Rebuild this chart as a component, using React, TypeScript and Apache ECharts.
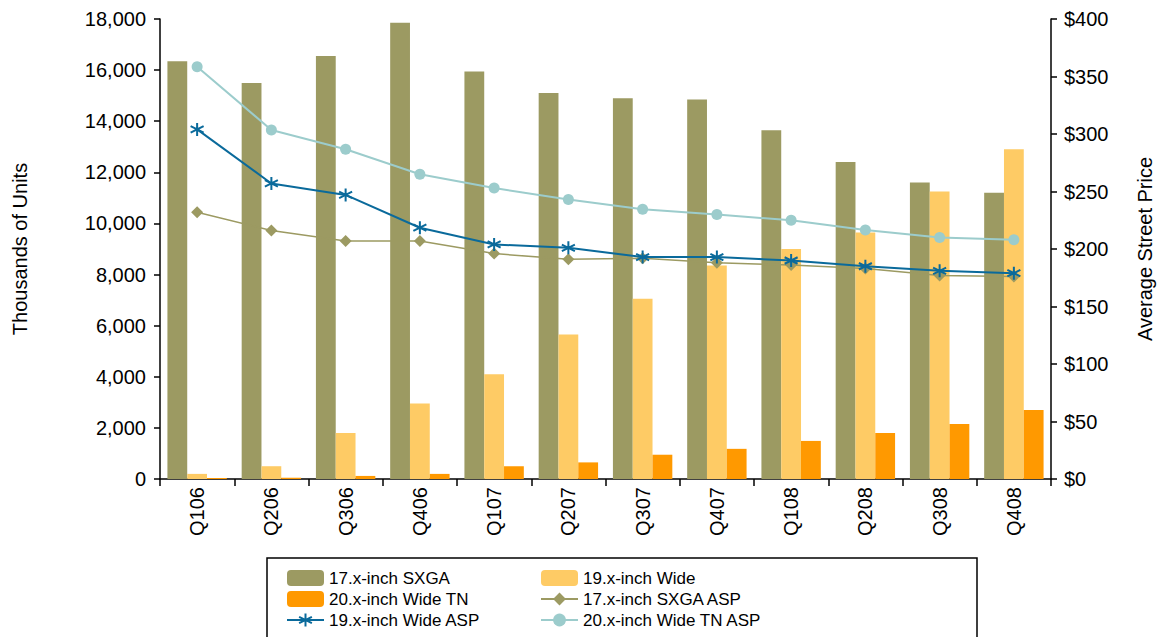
import React, { useEffect, useRef } from "react";
import * as echarts from "echarts";

const categories = ["Q106", "Q206", "Q306", "Q406", "Q107", "Q207", "Q307", "Q407", "Q108", "Q208", "Q308", "Q408"];
const sxgaUnits = [16350, 15500, 16550, 17850, 15950, 15100, 14900, 14850, 13650, 12400, 11600, 11200];
const wideUnits = [200, 500, 1800, 2950, 4100, 5650, 7050, 8350, 9000, 9650, 11250, 12900];
const wideTnUnits = [40, 50, 120, 200, 500, 650, 950, 1180, 1490, 1800, 2150, 2700];
const sxgaAsp = [232, 216, 207, 207, 196, 191, 192, 188, 186, 183, 177, 176];
const wideAsp = [304, 257, 247, 218.5, 204, 201, 193, 193, 190, 185, 181, 179];
const wideTnAsp = [358.5, 303.5, 286.7, 265, 253, 243, 234.5, 230, 225, 216.5, 210, 208];
const leftTicks = { min: 0, max: 18000, interval: 2000 };
const rightTicks = { min: 0, max: 400, interval: 50 };

const OLIVE = "#9C9A62";
const LIGHT_ORANGE = "#FECB65";
const ORANGE = "#FF9900";
const BLUE = "#0A6A9B";
const TEAL = "#9CCCCC";
const FONT = "'Liberation Sans', Arial, sans-serif";

const ASTERISK = "path://M0,-10 L0,10 M-8.66,-5 L8.66,5 M-8.66,5 L8.66,-5";

export default function App() {
  const ref = useRef<HTMLDivElement>(null);
  useEffect(() => {
    if (!ref.current) return;
    const chart = echarts.init(ref.current, null, { renderer: "svg" });
    const axisLine = { show: true, lineStyle: { color: "#000", width: 1.5 } };
    const legendText = { fontFamily: FONT, fontSize: 17, color: "#000", lineHeight: 20 };
    const legendBase = {
      orient: "vertical",
      top: 568,
      height: 66,
      padding: 0,
      itemWidth: 37,
      itemHeight: 16,
      itemGap: 1,
      textStyle: legendText,
    };
    chart.setOption({
      animation: false,
      textStyle: { fontFamily: FONT },
      grid: { left: 160, right: 102, top: 19, bottom: 158 },
      legend: [
        { ...legendBase, left: 286, data: ["17.x-inch SXGA", "20.x-inch Wide TN", "19.x-inch Wide ASP"] },
        { ...legendBase, left: 540, data: ["19.x-inch Wide", "17.x-inch SXGA ASP", "20.x-inch Wide TN ASP"] },
      ],
      graphic: [
        {
          type: "rect",
          shape: { x: 267, y: 558, width: 710, height: 100 },
          style: { fill: "none", stroke: "#000", lineWidth: 1.5 },
          silent: true,
        },
      ],
      xAxis: {
        type: "category",
        data: categories,
        boundaryGap: true,
        axisLine,
        axisTick: { show: true, length: 7, lineStyle: { color: "#000", width: 1.5 } },
        axisLabel: { rotate: 90, fontSize: 20, color: "#000", margin: 8, fontFamily: FONT },
        splitLine: { show: false },
      },
      yAxis: [
        {
          type: "value",
          ...leftTicks,
          position: "left",
          name: "Thousands of Units",
          nameLocation: "middle",
          nameRotate: 90,
          nameGap: 130,
          nameTextStyle: { fontSize: 20, color: "#000", fontFamily: FONT },
          axisLine,
          axisTick: { show: true, length: 6, lineStyle: { color: "#000", width: 1.5 } },
          axisLabel: {
            fontSize: 20,
            color: "#000",
            margin: 14,
            fontFamily: FONT,
            formatter: (v: number) => v.toLocaleString("en-US"),
          },
          splitLine: { show: false },
        },
        {
          type: "value",
          ...rightTicks,
          position: "right",
          name: "Average Street Price",
          nameLocation: "middle",
          nameRotate: 90,
          nameGap: 84,
          nameTextStyle: { fontSize: 20, color: "#000", fontFamily: FONT },
          axisLine,
          axisTick: { show: true, length: 6, lineStyle: { color: "#000", width: 1.5 } },
          axisLabel: {
            fontSize: 20,
            color: "#000",
            margin: 13,
            fontFamily: FONT,
            formatter: (v: number) => "$" + v,
          },
          splitLine: { show: false },
        },
      ],
      series: [
        { name: "17.x-inch SXGA", type: "bar", data: sxgaUnits, itemStyle: { color: OLIVE }, barGap: "0%", barCategoryGap: "20%" },
        { name: "19.x-inch Wide", type: "bar", data: wideUnits, itemStyle: { color: LIGHT_ORANGE }, barGap: "0%", barCategoryGap: "20%" },
        { name: "20.x-inch Wide TN", type: "bar", data: wideTnUnits, itemStyle: { color: ORANGE }, barGap: "0%", barCategoryGap: "20%" },
        {
          name: "17.x-inch SXGA ASP",
          type: "line",
          yAxisIndex: 1,
          data: sxgaAsp,
          symbol: "diamond",
          symbolSize: 12,
          z: 5,
          lineStyle: { color: OLIVE, width: 1.5 },
          itemStyle: { color: OLIVE },
        },
        {
          name: "19.x-inch Wide ASP",
          type: "line",
          yAxisIndex: 1,
          data: wideAsp,
          symbol: ASTERISK,
          symbolSize: 13,
          z: 6,
          lineStyle: { color: BLUE, width: 2 },
          itemStyle: { color: BLUE, borderColor: BLUE, borderWidth: 2 },
        },
        {
          name: "20.x-inch Wide TN ASP",
          type: "line",
          yAxisIndex: 1,
          data: wideTnAsp,
          symbol: "circle",
          symbolSize: 11,
          z: 7,
          lineStyle: { color: TEAL, width: 2 },
          itemStyle: { color: TEAL },
        },
      ],
    });
    return () => chart.dispose();
  }, []);
  return (
    <div
      ref={ref}
      style={{ position: "fixed", left: 0, top: 0, width: 1163, height: 637, background: "#fff" }}
    />
  );
}
